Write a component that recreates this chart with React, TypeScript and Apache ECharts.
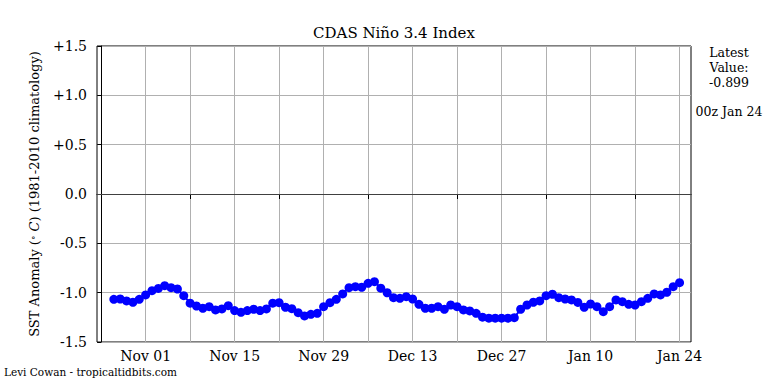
import React, { useEffect, useRef } from "react";
import * as echarts from "echarts";

// Day offsets are counted from Oct 25 (day 0)
const firstDay = 2; // Oct 27
const anomalies = [
  -1.067, -1.064, -1.084, -1.097, -1.067, -1.023, -0.98, -0.957, -0.929, -0.949,
  -0.963, -1.03, -1.107, -1.135, -1.158, -1.142, -1.175, -1.165, -1.132, -1.182,
  -1.199, -1.182, -1.168, -1.182, -1.165, -1.107, -1.101, -1.148, -1.162, -1.203,
  -1.236, -1.219, -1.209, -1.142, -1.101, -1.067, -1.013, -0.949, -0.939, -0.945,
  -0.905, -0.889, -0.955, -1.001, -1.051, -1.057, -1.041, -1.064, -1.118, -1.158,
  -1.158, -1.142, -1.168, -1.125, -1.142, -1.175, -1.185, -1.209, -1.248, -1.259,
  -1.259, -1.259, -1.259, -1.253, -1.168, -1.125, -1.097, -1.084, -1.03, -1.016,
  -1.051, -1.064, -1.074, -1.099, -1.148, -1.115, -1.142, -1.193, -1.142, -1.074,
  -1.091, -1.118, -1.125, -1.091, -1.057, -1.013, -1.023, -0.996, -0.939, -0.899,
];
const labelDays = [7, 21, 35, 49, 63, 77, 91];
const tickLabels = ["Nov 01", "Nov 15", "Nov 29", "Dec 13", "Dec 27", "Jan 10", "Jan 24"];
const majorTickDays = [0, 14, 28, 42, 56, 70, 84];
const gridDays = [0, 7, 14, 21, 28, 35, 42, 49, 56, 63, 70, 77, 84, 91];
const xMin = -0.65;
const xMax = 92.8;
const yMin = -1.5;
const yMax = 1.5;
const yStep = 0.5;

const titleText = "CDAS Ni\u00f1o 3.4 Index";
const latestLines = ["Latest", "Value:", "-0.899"];
const latestTime = "00z Jan 24";
const credit = "Levi Cowan - tropicaltidbits.com";

const FONT = "DejaVu Serif";

export default function App() {
  const ref = useRef<HTMLDivElement>(null);

  useEffect(() => {
    if (!ref.current) return;
    const chart = echarts.init(ref.current, null, { renderer: "svg" });
    const seriesData = anomalies.map((v, i) => [firstDay + i, v]);
    const labelMap: Record<number, string> = {};
    labelDays.forEach((d, i) => (labelMap[d] = tickLabels[i]));

    chart.setOption({
      animation: false,
      backgroundColor: "#ffffff",
      textStyle: { fontFamily: FONT },
      grid: {
        left: 97,
        right: 77,
        top: 46,
        bottom: 42,
        show: true,
        borderColor: "#000",
        borderWidth: 1,
        backgroundColor: "transparent",
      },
      xAxis: [
        {
          type: "value",
          position: "bottom",
          min: xMin,
          max: xMax,
          axisLine: { show: true, lineStyle: { color: "#000", width: 1 } },
          axisTick: {
            show: true,
            customValues: majorTickDays,
            length: 5,
            inside: false,
            lineStyle: { color: "#000", width: 1 },
          },
          axisLabel: {
            show: true,
            customValues: labelDays,
            formatter: (v: number) => labelMap[Math.round(v)] ?? "",
            fontFamily: FONT,
            fontSize: 14,
            color: "#000",
            margin: 7,
          },
          splitLine: { show: false },
        },
        {
          type: "value",
          position: "top",
          min: xMin,
          max: xMax,
          axisLine: { show: false },
          axisTick: { show: false, customValues: gridDays },
          axisLabel: { show: false },
          splitLine: { show: true, lineStyle: { color: "#b0b0b0", width: 1 } },
        },
      ],
      yAxis: {
        type: "value",
        min: yMin,
        max: yMax,
        interval: yStep,
        name: "SST Anomaly ({sup|\u2218} {it|C}) (1981-2010 climatology)",
        nameLocation: "middle",
        nameGap: 56,
        nameRotate: 90,
        nameTextStyle: {
          fontFamily: FONT,
          fontSize: 13,
          color: "#000",
          rich: {
            sup: { fontFamily: FONT, fontSize: 9, color: "#000", verticalAlign: "top" },
            it: { fontFamily: FONT, fontSize: 13, fontStyle: "italic", color: "#000" },
          },
        },
        axisLine: { show: true, lineStyle: { color: "#000", width: 1 } },
        axisTick: { show: true, length: 4, lineStyle: { color: "#000", width: 1 } },
        axisLabel: {
          fontFamily: FONT,
          fontSize: 14,
          color: "#000",
          margin: 10,
          formatter: (v: number) => (v > 0 ? "+" + v.toFixed(1) : v.toFixed(1)),
        },
        splitLine: { show: true, lineStyle: { color: "#b0b0b0", width: 1 } },
      },
      series: [
        {
          type: "line",
          xAxisIndex: 0,
          data: seriesData,
          symbol: "circle",
          symbolSize: 9,
          showSymbol: true,
          itemStyle: { color: "#0000ff" },
          lineStyle: { color: "#0000ff", width: 2 },
          z: 5,
          markLine: {
            silent: true,
            symbol: "none",
            label: { show: false },
            lineStyle: { color: "#404040", width: 1.2, type: "solid" },
            data: [{ yAxis: 0 }],
            z: 3,
          },
        },
      ],
      graphic: [
        {
          type: "text",
          x: 394,
          y: 33,
          style: {
            text: titleText,
            font: `15px "${FONT}"`,
            fill: "#000",
            align: "center",
            verticalAlign: "middle",
          },
        },
        {
          type: "text",
          x: 729,
          y: 45,
          style: {
            text: latestLines.join("\n"),
            font: `12.5px "${FONT}"`,
            lineHeight: 15,
            fill: "#000",
            align: "center",
            verticalAlign: "top",
          },
        },
        {
          type: "text",
          x: 729,
          y: 111,
          style: {
            text: latestTime,
            font: `12.5px "${FONT}"`,
            fill: "#000",
            align: "center",
            verticalAlign: "middle",
          },
        },
        {
          type: "text",
          x: 4,
          y: 372,
          style: {
            text: credit,
            font: `10.5px "${FONT}"`,
            fill: "#000",
            align: "left",
            verticalAlign: "middle",
          },
        },
      ],
    });

    return () => chart.dispose();
  }, []);

  return (
    <div
      ref={ref}
      style={{ position: "fixed", left: 0, top: 0, width: 768, height: 384 }}
    />
  );
}
